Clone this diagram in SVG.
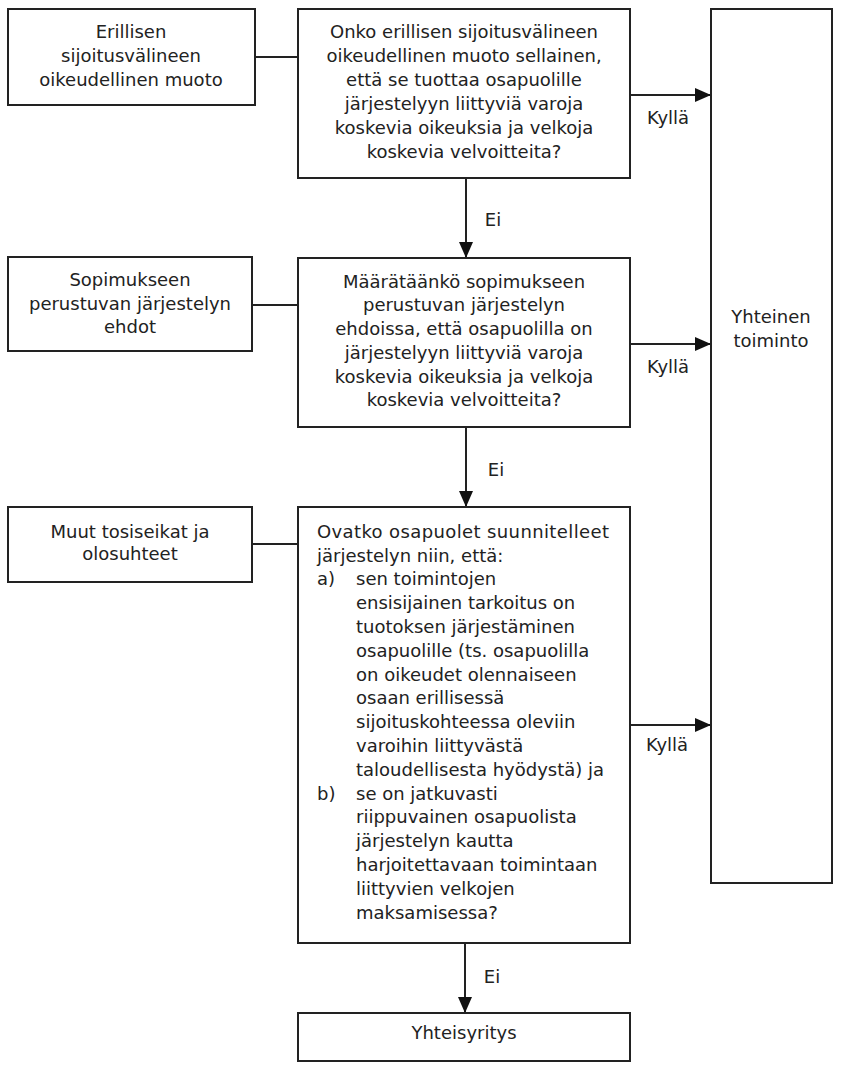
<svg xmlns="http://www.w3.org/2000/svg" width="842" height="1068" viewBox="0 0 842 1068">
<style>
.box{fill:#fff;stroke:#222;stroke-width:2}
.ln{fill:none;stroke:#222;stroke-width:2}
text{font-family:"DejaVu Sans","Liberation Sans",sans-serif;font-size:18px;fill:#222}
.c{text-anchor:middle}
</style>
<defs>
<marker id="arr" viewBox="0 0 16 14" refX="16" refY="7" markerWidth="16" markerHeight="14" markerUnits="userSpaceOnUse" orient="auto">
<path d="M0,0 L16,7 L0,14 Z" fill="#111"/>
</marker>
</defs>
<rect width="842" height="1068" fill="#fff"/>
<g id="connectors">
<line class="ln" x1="255" y1="57" x2="298" y2="57"/>
<line class="ln" x1="252" y1="305" x2="298" y2="305"/>
<line class="ln" x1="252" y1="544" x2="298" y2="544"/>
<line class="ln" x1="630" y1="95" x2="711" y2="95" marker-end="url(#arr)"/>
<line class="ln" x1="630" y1="344" x2="711" y2="344" marker-end="url(#arr)"/>
<line class="ln" x1="630" y1="725" x2="711" y2="725" marker-end="url(#arr)"/>
<line class="ln" x1="466" y1="178" x2="466" y2="258" marker-end="url(#arr)"/>
<line class="ln" x1="466" y1="427" x2="466" y2="507" marker-end="url(#arr)"/>
<line class="ln" x1="465" y1="943" x2="465" y2="1013" marker-end="url(#arr)"/>
<text class="c" x="668" y="124">Kyllä</text>
<text class="c" x="668" y="373">Kyllä</text>
<text class="c" x="667" y="751">Kyllä</text>
<text class="c" x="493" y="226">Ei</text>
<text class="c" x="496" y="476">Ei</text>
<text class="c" x="492" y="983">Ei</text>
</g>
<g id="n-erillisen">
<rect class="box" x="8" y="9" width="247" height="96"/>
<text class="c" x="131" y="38">Erillisen</text>
<text class="c" x="131" y="62">sijoitusvälineen</text>
<text class="c" x="131" y="86">oikeudellinen muoto</text>
</g>
<g id="n-q1">
<rect class="box" x="298" y="9" width="332" height="169"/>
<text class="c" x="464" y="38">Onko erillisen sijoitusvälineen</text>
<text class="c" x="464" y="62">oikeudellinen muoto sellainen,</text>
<text class="c" x="464" y="86">että se tuottaa osapuolille</text>
<text class="c" x="464" y="110">järjestelyyn liittyviä varoja</text>
<text class="c" x="464" y="134">koskevia oikeuksia ja velkoja</text>
<text class="c" x="464" y="158">koskevia velvoitteita?</text>
</g>
<g id="n-yhteinen">
<rect class="box" x="711" y="9" width="121" height="874"/>
<text class="c" x="771" y="323">Yhteinen</text>
<text class="c" x="771" y="347">toiminto</text>
</g>
<g id="n-sopimukseen">
<rect class="box" x="8" y="257" width="244" height="94"/>
<text class="c" x="130" y="286">Sopimukseen</text>
<text class="c" x="130" y="310">perustuvan järjestelyn</text>
<text class="c" x="130" y="333">ehdot</text>
</g>
<g id="n-q2">
<rect class="box" x="298" y="258" width="332" height="169"/>
<text class="c" x="464" y="288">Määrätäänkö sopimukseen</text>
<text class="c" x="464" y="311">perustuvan järjestelyn</text>
<text class="c" x="464" y="335">ehdoissa, että osapuolilla on</text>
<text class="c" x="464" y="359">järjestelyyn liittyviä varoja</text>
<text class="c" x="464" y="383">koskevia oikeuksia ja velkoja</text>
<text class="c" x="464" y="406">koskevia velvoitteita?</text>
</g>
<g id="n-muut">
<rect class="box" x="8" y="507" width="244" height="75"/>
<text class="c" x="130" y="538">Muut tosiseikat ja</text>
<text class="c" x="130" y="560">olosuhteet</text>
</g>
<g id="n-q3">
<rect class="box" x="298" y="507" width="332" height="436"/>
<text x="317" y="538" textLength="292">Ovatko osapuolet suunnitelleet</text>
<text x="317" y="562">järjestelyn niin, että:</text>
<text x="317" y="585">a)</text>
<text x="356" y="585">sen toimintojen</text>
<text x="356" y="609">ensisijainen tarkoitus on</text>
<text x="356" y="633">tuotoksen järjestäminen</text>
<text x="356" y="657">osapuolille (ts. osapuolilla</text>
<text x="356" y="681">on oikeudet olennaiseen</text>
<text x="356" y="704">osaan erillisessä</text>
<text x="356" y="728">sijoituskohteessa oleviin</text>
<text x="356" y="752">varoihin liittyvästä</text>
<text x="356" y="776">taloudellisesta hyödystä) ja</text>
<text x="317" y="800">b)</text>
<text x="356" y="800">se on jatkuvasti</text>
<text x="356" y="823">riippuvainen osapuolista</text>
<text x="356" y="847">järjestelyn kautta</text>
<text x="356" y="871">harjoitettavaan toimintaan</text>
<text x="356" y="895">liittyvien velkojen</text>
<text x="356" y="919">maksamisessa?</text>
</g>
<g id="n-yhteisyritys">
<rect class="box" x="298" y="1013" width="332" height="48"/>
<text class="c" x="464" y="1039">Yhteisyritys</text>
</g>
</svg>
